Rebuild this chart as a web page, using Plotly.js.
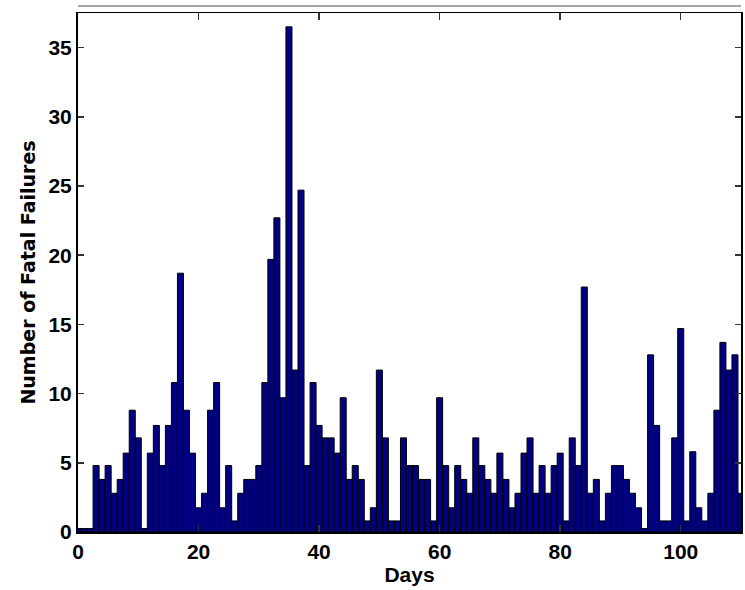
<!DOCTYPE html>
<html>
<head>
<meta charset="utf-8">
<script src="https://cdn.plot.ly/plotly-3.0.1.min.js"></script>
<style>
  html, body { margin: 0; padding: 0; background: #ffffff; }
  #chart { width: 745px; height: 590px; }
</style>
</head>
<body>
<div id="chart"></div>
<script>
// Days (x) and number of fatal failures per day (y)
var days = [];
for (var i = 0; i <= 110; i++) { days.push(i); }

var failures = [
  0.25, 0.25, 0.25, 4.8, 3.8, 4.8, 2.8, 3.8, 5.7, 8.8,   // 0-9
  6.8, 0.25, 5.7, 7.7, 4.8, 7.7, 10.8, 18.7, 8.8, 5.7,   // 10-19
  1.75, 2.8, 8.8, 10.8, 1.75, 4.8, 0.8, 2.8, 3.8, 3.8,   // 20-29
  4.8, 10.8, 19.7, 22.7, 9.7, 36.5, 11.7, 24.7, 4.8, 10.8, // 30-39
  7.7, 6.8, 6.8, 5.7, 9.7, 3.8, 4.8, 3.8, 0.8, 1.75,     // 40-49
  11.7, 6.8, 0.8, 0.8, 6.8, 4.8, 4.8, 3.8, 3.8, 0.8,     // 50-59
  9.7, 4.8, 1.75, 4.8, 3.8, 2.8, 6.8, 4.8, 3.8, 2.8,     // 60-69
  5.7, 3.8, 1.75, 2.8, 5.7, 6.8, 2.8, 4.8, 2.8, 4.8,     // 70-79
  5.7, 0.8, 6.8, 4.8, 17.7, 2.8, 3.8, 0.8, 2.8, 4.8,     // 80-89
  4.8, 3.8, 2.8, 1.75, 0.25, 12.8, 7.7, 0.8, 0.8, 6.8,   // 90-99
  14.7, 0.8, 5.8, 1.75, 0.8, 2.8, 8.8, 13.7, 11.7, 12.8, // 100-109
  2.8                                                    // 110
];

var xTickVals = [0, 20, 40, 60, 80, 100];
var yTickVals = [0, 5, 10, 15, 20, 25, 30, 35];

var xTitle = "Days";
var yTitle = "Number of Fatal Failures";

var tickFont = {
  family: "Liberation Sans, Arial, sans-serif",
  size: 21, color: "#000000", weight: "bold"
};

var trace = {
  type: "bar",
  x: days,
  y: failures,
  width: 1,
  marker: { color: "#000080", line: { color: "#000000", width: 1 } },
  hoverinfo: "x+y"
};

var layout = {
  width: 745,
  height: 590,
  margin: { l: 78, r: 4, t: 13, b: 58 },
  paper_bgcolor: "#ffffff",
  plot_bgcolor: "#ffffff",
  showlegend: false,
  bargap: 0,
  xaxis: {
    range: [0, 110],
    tickmode: "array",
    tickvals: xTickVals,
    ticks: "inside",
    ticklen: 7,
    tickwidth: 1.5,
    tickcolor: "#333333",
    showline: true,
    linecolor: "#000000",
    linewidth: 1.5,
    mirror: "ticks",
    showgrid: false,
    zeroline: false,
    tickfont: tickFont,
    title: {
      text: xTitle,
      font: tickFont,
      standoff: 4
    }
  },
  yaxis: {
    range: [0, 37.5],
    tickmode: "array",
    tickvals: yTickVals,
    ticks: "inside",
    ticklen: 6,
    tickwidth: 1.5,
    tickcolor: "#333333",
    showline: true,
    linecolor: "#000000",
    linewidth: 2,
    mirror: "ticks",
    showgrid: false,
    zeroline: false,
    tickfont: tickFont,
    title: {
      text: yTitle,
      font: { family: "DejaVu Sans, Liberation Sans, Arial, sans-serif", size: 19, color: "#000000", weight: "bold" },
      standoff: 8
    }
  },
  shapes: [
    {
      type: "line", xref: "paper", yref: "paper",
      x0: 0, x1: 1, y0: 1.0135, y1: 1.0135,
      line: { color: "#888888", width: 1.5 }
    }
  ]
};

Plotly.newPlot("chart", [trace], layout, { staticPlot: true, displayModeBar: false });
</script>
</body>
</html>
